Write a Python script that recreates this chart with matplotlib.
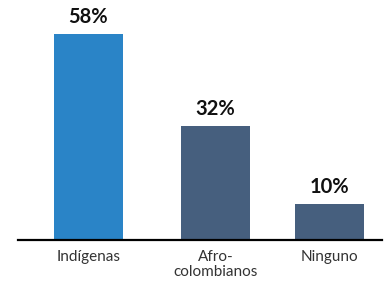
import matplotlib.pyplot as plt

categories = ['Indígenas', 'Afro-\ncolombianos', 'Ninguno']
values = [58, 32, 10]
colors = ['#2A84C7', '#465F7E', '#465F7E']

# uneven spacing like the original
xpos = [0, 1, 1.9]

plt.rcParams['font.family'] = ['Lato', 'DejaVu Sans']

fig = plt.figure(figsize=(3.87, 2.84), dpi=100)
ax = fig.add_axes([18 / 387, 44 / 284, 364 / 387, 240 / 284])

ax.bar(xpos, values, width=0.543, color=colors)
for x, v in zip(xpos, values):
    ax.text(x, v + 2.0, f'{v}%', ha='center', va='bottom',
            fontsize=14.5, fontweight='bold', color='#111111')

ax.set_xlim(-0.555, 2.311)
ax.set_ylim(0, 67.6)
ax.set_xticks(xpos)
ax.set_xticklabels(categories, fontsize=11, color='#333333', linespacing=1.1)
ax.tick_params(axis='x', length=0, pad=7)
ax.set_yticks([])
for s in ['top', 'right', 'left']:
    ax.spines[s].set_visible(False)
ax.spines['bottom'].set_linewidth(1.6)
ax.spines['bottom'].set_color('black')

plt.savefig('out.png', dpi=100)
